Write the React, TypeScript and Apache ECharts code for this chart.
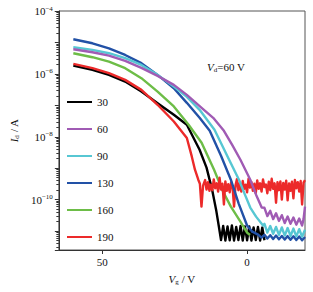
import React, { useEffect, useRef } from 'react';
import * as echarts from 'echarts';

const seriesNames = ['30', '60', '90', '130', '160', '190'];
const seriesColors = ['#000000', '#a05bb4', '#57c7d3', '#2251a6', '#6dbd47', '#ec2a2a'];

const xTickValues = [50, 0];
const yLabelExponents = [-4, -6, -8, -10];

const curve30: [number, number][] = [
  [60, 1.83e-6], [53.4, 1.34e-6], [47.7, 9.3e-7], [42.1, 5.7e-7], [36.5, 2.74e-7], [30.9, 1.17e-7],
  [25.3, 4.99e-8], [20.8, 2.4e-8], [16.4, 3.86e-9], [14.0, 1.04e-9], [12.0, 1.93e-10], [10.7, 4.8e-11],
  [9.8, 1.5e-11], [9.0, 5.2e-12], [8.25, 1.45e-11], [7.5, 5.0e-12], [6.75, 1.4e-11], [6.0, 5.1e-12],
  [5.25, 1.5e-11], [4.5, 5.0e-12], [3.75, 1.35e-11], [3.0, 5.2e-12], [2.25, 1.45e-11], [1.5, 5.0e-12],
  [0.75, 1.4e-11], [0.0, 5.1e-12], [-0.75, 1.4e-11], [-1.5, 5.0e-12], [-2.25, 1.3e-11], [-3.0, 5.2e-12],
  [-3.75, 1.35e-11], [-4.5, 5.0e-12], [-5.25, 1.3e-11], [-6.0, 5.1e-12],
];

const curve60: [number, number][] = [
  [60, 6.08e-6], [53.4, 4.89e-6], [47.7, 3.81e-6], [42.1, 2.59e-6], [36.5, 1.55e-6], [30.9, 8.65e-7],
  [25.3, 4.48e-7], [20.8, 2.15e-7], [15.7, 8.3e-8], [11.7, 4.0e-8], [8.0, 1.55e-8], [5.0, 5.2e-9],
  [2.3, 1.86e-9], [-1.1, 4.3e-10], [-3.1, 1.44e-10], [-5.05, 5.6e-11], [-6, 5.5e-11], [-7, 3.0e-11],
  [-8, 4.4e-11], [-9, 2.4e-11], [-10, 3.7e-11], [-11, 2.1e-11], [-12, 3.2e-11], [-13, 1.8e-11],
  [-14, 2.9e-11], [-15, 1.7e-11], [-16, 2.7e-11], [-17, 1.6e-11], [-18, 2.5e-11], [-19, 1.5e-11],
  [-19.5, 2.4e-11], [-20, 6.0e-11],
];

const curve90: [number, number][] = [
  [60, 7.05e-6], [53.4, 5.78e-6], [47.7, 4.54e-6], [42.1, 3.15e-6], [36.5, 1.93e-6], [30.9, 9.3e-7],
  [25.3, 3.95e-7], [20.8, 1.86e-7], [16.4, 7.2e-8], [11.25, 1.67e-8], [6.2, 1.86e-9], [2.8, 4.3e-10],
  [0.6, 1.34e-10], [-1.1, 5.6e-11], [-3.1, 2.88e-11], [-5.5, 1.5e-11], [-6, 1.7e-11], [-7, 9.0e-12],
  [-8, 1.45e-11], [-9, 8.2e-12], [-10, 1.35e-11], [-11, 7.6e-12], [-12, 1.3e-11], [-13, 7.2e-12],
  [-14, 1.25e-11], [-15, 7.0e-12], [-16, 1.2e-11], [-17, 6.8e-12], [-18, 1.15e-11], [-19, 6.6e-12],
  [-20, 1.1e-11],
];

const curve130: [number, number][] = [
  [60, 1.26e-5], [53.4, 9.4e-6], [47.7, 6.5e-6], [42.1, 4.0e-6], [36.5, 2.19e-6], [30.9, 9.3e-7],
  [25.3, 3.5e-7], [20.8, 1.2e-7], [16.4, 4.0e-8], [12.9, 1.55e-8], [9.0, 2.5e-9], [5.6, 4.3e-10],
  [2.9, 7.5e-11], [0.0, 1.5e-11], [-1.8, 9.6e-12], [-3.8, 7.7e-12], [-5, 6.2e-12], [-6, 7.6e-12],
  [-7, 5.8e-12], [-8, 7.4e-12], [-9, 5.6e-12], [-10, 7.2e-12], [-11, 5.5e-12], [-12, 7.0e-12],
  [-13, 5.4e-12], [-14, 6.9e-12], [-15, 5.3e-12], [-16, 6.8e-12], [-17, 5.2e-12], [-18, 6.7e-12],
  [-19, 5.1e-12], [-20, 6.5e-12],
];

const curve160: [number, number][] = [
  [60, 4.54e-6], [53.4, 3.39e-6], [47.7, 2.45e-6], [42.1, 1.52e-6], [36.5, 7.3e-7], [30.9, 2.74e-7],
  [25.3, 9.2e-8], [20.2, 2.4e-8], [15.7, 6.45e-9], [11.4, 8.95e-10], [8.3, 1.8e-10], [5.6, 6.0e-11],
  [2.3, 2.0e-11], [0.0, 8.95e-12], [-1.0, 7.5e-12],
];

const curve190: [number, number][] = [
  [60, 2.07e-6], [53.4, 1.52e-6], [47.7, 1.05e-6], [42.1, 6.45e-7], [36.5, 3.1e-7], [30.9, 1.04e-7],
  [25.3, 3.06e-8], [20.8, 9.1e-9], [19.1, 2.37e-9], [18.0, 8.95e-10], [16.85, 4.3e-10], [16.3, 3.2e-10],
  [15.75, 6.0e-11], [15.2, 2.78e-10],
  [14.5, 4.2e-10], [14, 2.1e-10], [13.5, 3.6e-10], [13, 1.9e-10], [12.5, 3.0e-10], [12, 2.0e-10],
  [11.5, 4.4e-10], [11, 2.3e-10], [10.5, 3.3e-10], [10, 1.8e-10], [9.5, 5.0e-10], [9, 2.1e-10],
  [8.5, 3.2e-10], [8, 7.0e-11], [7.5, 3.8e-10], [7, 1.9e-10], [6.5, 3.1e-10], [6, 1.7e-10],
  [5.5, 3.6e-10], [5, 2.4e-10], [4.5, 6.0e-11], [4, 2.8e-10], [3.5, 4.5e-10], [3, 2.0e-10],
  [2.5, 3.4e-10], [2, 1.8e-10], [1.5, 3.9e-10], [1, 2.2e-10], [0.5, 3.0e-10], [0, 1.7e-10],
  [-0.5, 4.6e-10], [-1, 2.4e-10], [-1.5, 3.6e-10], [-2, 1.9e-10], [-2.5, 3.2e-10], [-3, 1.6e-10],
  [-3.5, 4.1e-10], [-4, 2.2e-10], [-4.5, 3.3e-10], [-5, 1.8e-10], [-5.5, 4.4e-10], [-6, 2.5e-10],
  [-6.5, 3.0e-10], [-7, 1.6e-10], [-7.5, 3.7e-10], [-8, 2.0e-10], [-8.5, 4.6e-10], [-9, 2.2e-10],
  [-9.5, 3.3e-10], [-10, 8.0e-11], [-10.5, 3.6e-10], [-11, 2.0e-10], [-11.5, 3.8e-10], [-12, 1.0e-10],
  [-12.5, 3.4e-10], [-13, 2.1e-10], [-13.5, 4.0e-10], [-14, 9.5e-11], [-14.5, 3.3e-10], [-15, 1.9e-10],
  [-15.5, 3.7e-10], [-16, 1.1e-10], [-16.5, 4.2e-10], [-17, 2.3e-10], [-17.5, 3.6e-10], [-18, 1.8e-10],
  [-18.5, 3.9e-10], [-19, 7.0e-11], [-19.5, 3.5e-10], [-20, 4.2e-10],
];

const curves = [curve30, curve60, curve90, curve130, curve160, curve190];
// drawing order (bottom to top)
const drawOrder = [0, 4, 5, 3, 2, 1];

const FONT = 'Liberation Serif';

export default function App() {
  const ref = useRef<HTMLDivElement>(null);
  useEffect(() => {
    if (!ref.current) return;
    const chart = echarts.init(ref.current, undefined, { renderer: 'svg' });
    const series = drawOrder.map((i) => ({
      name: seriesNames[i],
      type: 'line',
      data: curves[i],
      showSymbol: false,
      symbol: 'none',
      color: seriesColors[i],
      lineStyle: { width: 2.4, color: seriesColors[i], join: 'round' },
    }));
    const nameRich = {
      i: { fontFamily: FONT, fontSize: 11, fontStyle: 'italic', color: '#111' },
      s: { fontFamily: FONT, fontSize: 7, color: '#111', verticalAlign: 'bottom', padding: [6, 0, 0, 0] },
      n: { fontFamily: FONT, fontSize: 11, color: '#111' },
    };
    chart.setOption({
      animation: false,
      backgroundColor: '#ffffff',
      grid: {
        left: 54, top: 11, width: 251, height: 239,
        show: true, borderColor: '#555', borderWidth: 1, backgroundColor: 'transparent',
      },
      legend: {
        data: seriesNames,
        orient: 'vertical',
        left: 62,
        top: 90,
        icon: 'rect',
        itemWidth: 25,
        itemHeight: 2,
        itemGap: 13,
        selectedMode: false,
        textStyle: { fontFamily: FONT, fontSize: 11, color: '#111', lineHeight: 14 },
      },
      xAxis: {
        type: 'value',
        min: -20,
        max: 65,
        inverse: true,
        name: '{i|V}{s|g}{n| / V}',
        nameLocation: 'middle',
        nameGap: 22,
        nameTextStyle: { rich: nameRich },
        axisLine: { show: true, onZero: false, lineStyle: { color: '#333' } },
        axisTick: { show: true, customValues: xTickValues, length: 4, lineStyle: { color: '#333' } },
        axisLabel: { customValues: xTickValues, fontFamily: FONT, fontSize: 11, color: '#111', margin: 6 },
        splitLine: { show: false },
      },
      yAxis: {
        type: 'log',
        logBase: 10,
        min: 2.5e-12,
        max: 1e-4,
        name: '{i|I}{s|d}{n| / A}',
        nameLocation: 'middle',
        nameRotate: 90,
        nameGap: 27,
        nameTextStyle: { rich: nameRich },
        axisLine: { show: true, onZero: false, lineStyle: { color: '#333' } },
        axisTick: { show: true, length: 4, lineStyle: { color: '#333' } },
        minorTick: { show: true, splitNumber: 9, length: 2.5, lineStyle: { color: '#333' } },
        splitLine: { show: false },
        minorSplitLine: { show: false },
        axisLabel: {
          margin: 6,
          formatter: (val: number) => {
            const lg = Math.log10(val);
            const e = Math.round(lg);
            if (Math.abs(lg - e) > 1e-6) return '';
            if (yLabelExponents.indexOf(e) < 0) return '';
            return `{b|10}{s|\u2212${-e}}`;
          },
          rich: {
            b: { fontFamily: FONT, fontSize: 11, color: '#111', lineHeight: 12 },
            s: { fontFamily: FONT, fontSize: 7, color: '#111', verticalAlign: 'top', lineHeight: 7, padding: [0, 0, 6, 0] },
          },
        },
      },
      graphic: [
        {
          type: 'text',
          left: 207,
          top: 61,
          style: {
            text: '{i|V}{s|d}{n|=60 V}',
            rich: {
              i: { fontFamily: FONT, fontSize: 11, fontStyle: 'italic', fill: '#111' },
              s: { fontFamily: FONT, fontSize: 7, fill: '#111', verticalAlign: 'bottom', padding: [6, 0, 0, 0] },
              n: { fontFamily: FONT, fontSize: 11, fill: '#111' },
            },
          },
        },
      ],
      series,
    });
    return () => chart.dispose();
  }, []);
  return <div ref={ref} style={{ position: 'fixed', left: 0, top: 0, width: 313, height: 292 }} />;
}
